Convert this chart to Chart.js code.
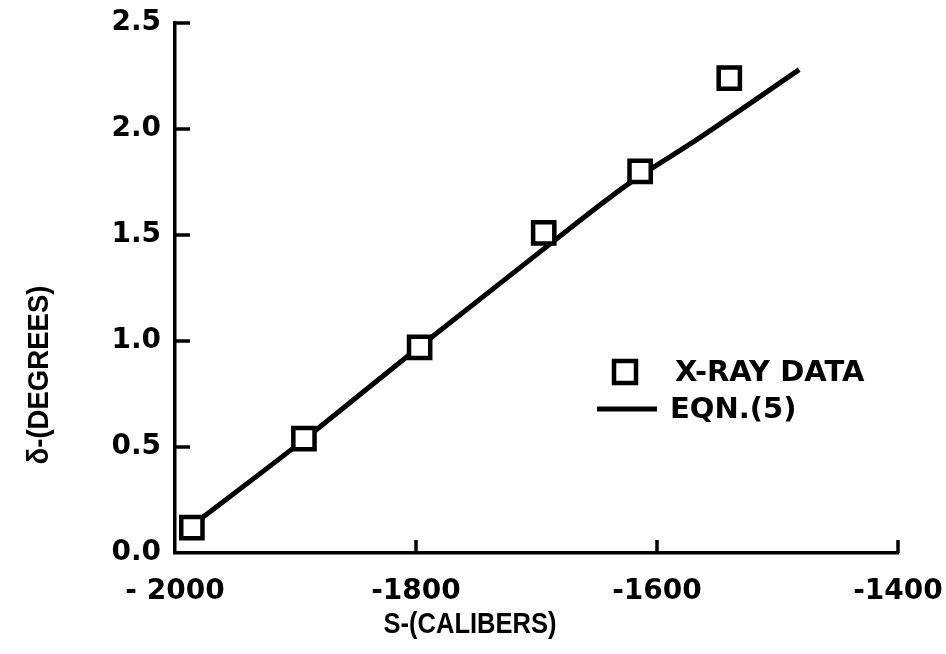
<!DOCTYPE html>
<html><head><meta charset="utf-8">
<script src="https://cdn.jsdelivr.net/npm/chart.js@4.4.0/dist/chart.umd.min.js"></script>
<style>html,body{margin:0;padding:0;background:#fff;} #wrap{width:946px;height:654px;position:relative;}</style>
</head><body><div id="wrap"><canvas id="c" width="946" height="654" style="width:946px;height:654px;"></canvas></div>
<script>
// ---- data ----
const xrayS = [-1986, -1893, -1797, -1694, -1614, -1540];
const xrayDelta = [0.12, 0.54, 0.97, 1.51, 1.80, 2.24];
const eqnS = [-1986, -1903, -1800, -1695, -1624, -1567, -1482];
const eqnDelta = [0.13, 0.49, 0.96, 1.43, 1.74, 1.95, 2.28];
const xTicks = [-2000, -1800, -1600, -1400];
const xTickLabels = ['- 2000', '-1800', '-1600', '-1400'];
const yTicks = [0, 0.5, 1.0, 1.5, 2.0, 2.5];
const yTickLabels = ['0.0', '0.5', '1.0', '1.5', '2.0', '2.5'];
const seriesNames = ['X-RAY DATA', 'EQN.(5)'];
const xTitle = 'S-(CALIBERS)';
const yTitle = 'δ-(DEGREES)';

const tickFont = {family: 'DejaVu Sans', weight: 'bold', size: 28};

const decor = {
  id: 'decor',
  afterDraw(chart) {
    const {ctx, chartArea: a, scales: {x, y}} = chart;
    ctx.save();
    ctx.strokeStyle = '#000';
    ctx.fillStyle = '#000';
    ctx.lineWidth = 3.5;
    ctx.lineCap = 'butt';
    // inward ticks
    yTicks.forEach(v => {
      if (v === yTicks[0]) return;
      const py = y.getPixelForValue(v);
      ctx.beginPath(); ctx.moveTo(a.left, py); ctx.lineTo(a.left + 15, py); ctx.stroke();
    });
    xTicks.forEach(v => {
      if (v === xTicks[0]) return;
      const px = x.getPixelForValue(v);
      ctx.beginPath(); ctx.moveTo(px, a.bottom); ctx.lineTo(px, a.bottom - 13); ctx.stroke();
    });
    // axis titles (slightly condensed lettering)
    ctx.font = 'bold 29px "Liberation Sans"';
    ctx.textAlign = 'center';
    ctx.textBaseline = 'middle';
    ctx.save();
    ctx.translate(470, 625);
    ctx.scale(0.88, 1);
    ctx.fillText(xTitle, 0, 0);
    ctx.restore();
    ctx.save();
    ctx.translate(40, 375);
    ctx.rotate(-Math.PI / 2);
    ctx.scale(0.95, 1);
    ctx.fillText(yTitle, 0, 0);
    ctx.restore();
    // legend
    const ds0 = chart.data.datasets[0], ds1 = chart.data.datasets[1];
    ctx.lineWidth = ds0.borderWidth;
    ctx.strokeStyle = ds0.borderColor;
    ctx.fillStyle = '#fff';
    ctx.beginPath(); ctx.rect(614, 361, 22, 22); ctx.fill(); ctx.stroke();
    ctx.lineWidth = ds1.borderWidth;
    ctx.strokeStyle = ds1.borderColor;
    ctx.beginPath(); ctx.moveTo(597, 409); ctx.lineTo(657, 409); ctx.stroke();
    ctx.fillStyle = '#000';
    ctx.font = 'bold 29px "DejaVu Sans"';
    ctx.textAlign = 'left';
    ctx.fillText(seriesNames[0], 675, 373);
    ctx.fillText(seriesNames[1], 670, 410);
    ctx.restore();
  }
};

new Chart(document.getElementById('c'), {
  type: 'scatter',
  data: {
    datasets: [
      {
        label: seriesNames[0],
        data: xrayS.map((s, i) => ({x: s, y: xrayDelta[i]})),
        pointStyle: 'rect',
        pointRadius: 15,
        pointHoverRadius: 15,
        borderWidth: 4.5,
        borderColor: '#000',
        backgroundColor: '#fff',
        order: 0
      },
      {
        type: 'line',
        label: seriesNames[1],
        data: eqnS.map((s, i) => ({x: s, y: eqnDelta[i]})),
        showLine: true,
        pointRadius: 0,
        borderWidth: 5,
        borderColor: '#000',
        fill: false,
        cubicInterpolationMode: 'monotone',
        order: 1
      }
    ]
  },
  options: {
    responsive: false,
    maintainAspectRatio: false,
    animation: false,
    devicePixelRatio: 1,
    layout: {padding: {top: 23, right: 48, left: 0, bottom: 0}},
    plugins: {legend: {display: false}, tooltip: {enabled: false}, title: {display: false}},
    scales: {
      x: {
        type: 'linear',
        min: xTicks[0], max: xTicks[xTicks.length - 1],
        afterBuildTicks: s => { s.ticks = xTicks.map(v => ({value: v})); },
        afterFit: s => { s.height = 101; s.paddingLeft = 0; s.paddingRight = 0; },
        ticks: {
          callback: v => xTickLabels[xTicks.indexOf(v)],
          font: tickFont, color: '#000', padding: 22, maxRotation: 0, autoSkip: false
        },
        grid: {display: true, drawOnChartArea: false, drawTicks: false},
        border: {display: true, color: '#000', width: 3.5}
      },
      y: {
        type: 'linear',
        min: yTicks[0], max: yTicks[yTicks.length - 1],
        afterBuildTicks: s => { s.ticks = yTicks.map(v => ({value: v})); },
        afterFit: s => { s.width = 175; s.paddingTop = 0; s.paddingBottom = 0; },
        ticks: {
          callback: v => yTickLabels[yTicks.indexOf(v)],
          font: tickFont, color: '#000', padding: 14, autoSkip: false
        },
        grid: {display: true, drawOnChartArea: false, drawTicks: false},
        border: {display: true, color: '#000', width: 3.5}
      }
    }
  },
  plugins: [decor]
});
</script>
</body></html>
